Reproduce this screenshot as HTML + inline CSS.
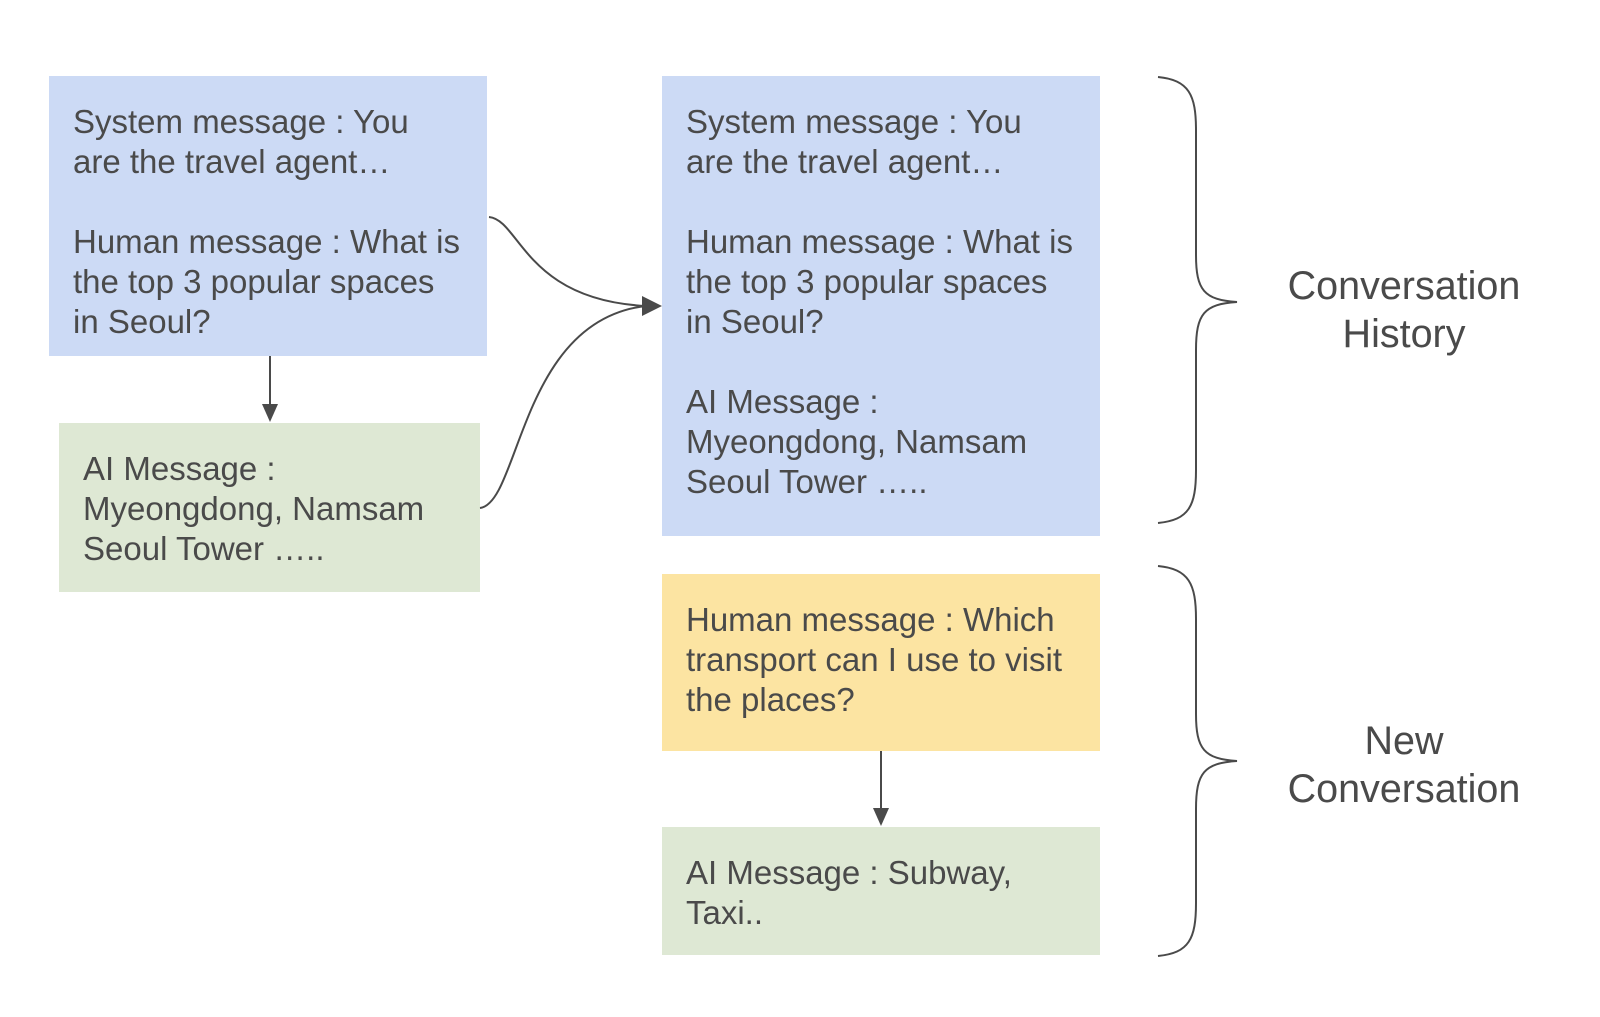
<!DOCTYPE html>
<html><head><meta charset="utf-8"><style>
html,body{margin:0;padding:0;background:#fff;width:1600px;height:1017px;overflow:hidden}
.b{position:absolute;box-sizing:border-box;padding-left:24px;font-family:"Liberation Sans",Arial,sans-serif;font-size:33px;line-height:40px;color:#4a4a4a;white-space:pre}
.l{position:absolute;font-family:"Liberation Sans",Arial,sans-serif;font-size:39.5px;line-height:48px;color:#4a4a4a;text-align:center;width:300px}
</style></head><body>
<div class="b" style="left:49px;top:76px;width:438px;height:280px;background:#ccdaf5;padding-top:26px">System message : You
are the travel agent…

Human message : What is
the top 3 popular spaces
in Seoul?</div>
<div class="b" style="left:59px;top:423px;width:421px;height:169px;background:#dee8d4;padding-top:26px">AI Message :
Myeongdong, Namsam
Seoul Tower …..</div>
<div class="b" style="left:662px;top:76px;width:438px;height:460px;background:#ccdaf5;padding-top:26px">System message : You
are the travel agent…

Human message : What is
the top 3 popular spaces
in Seoul?

AI Message :
Myeongdong, Namsam
Seoul Tower …..</div>
<div class="b" style="left:662px;top:574px;width:438px;height:177px;background:#fce4a2;padding-top:26px">Human message : Which
transport can I use to visit
the places?</div>
<div class="b" style="left:662px;top:827px;width:438px;height:128px;background:#dee8d4;padding-top:26px">AI Message : Subway,
Taxi..</div>
<div class="l" style="left:1254px;top:262px">Conversation<br>History</div>
<div class="l" style="left:1254px;top:717px">New<br>Conversation</div>
<svg width="1600" height="1017" style="position:absolute;left:0;top:0" fill="none" stroke="#4a4a4a" stroke-width="2">
<path d="M270 356 V406"/><polygon points="262,404 278,404 270,422" fill="#4a4a4a" stroke="none"/>
<path d="M881 751 V810"/><polygon points="873,808 889,808 881,826" fill="#4a4a4a" stroke="none"/>
<path d="M489 217 C520 220 525 300 646 306"/>
<path d="M480 508 C520 503 520 320 646 306"/>
<polygon points="662,306 642,296 642,316" fill="#4a4a4a" stroke="none"/>
<path d="M1158 77 C1189 80 1196 95 1196 130 V255 C1196 290 1204 300 1237 302 C1204 304 1196 314 1196 350 V470 C1196 506 1189 520 1158 523"/>
<path d="M1158 566 C1189 569 1196 584 1196 619 V714 C1196 749 1204 759 1237 761 C1204 763 1196 773 1196 809 V903 C1196 939 1189 953 1158 956"/>
</svg>
</body></html>
